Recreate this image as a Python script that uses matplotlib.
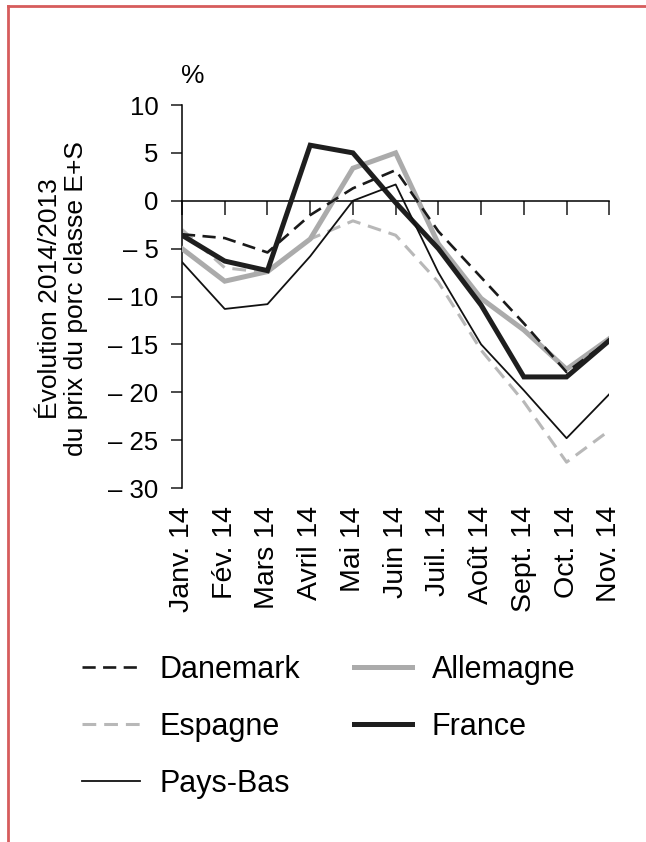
import matplotlib
matplotlib.use("Agg")
import matplotlib.pyplot as plt
from matplotlib.lines import Line2D

plt.rcParams['font.family'] = ['Liberation Sans', 'DejaVu Sans']

months = ["Janv. 14", "Fév. 14", "Mars 14", "Avril 14", "Mai 14", "Juin 14",
          "Juil. 14", "Août 14", "Sept. 14", "Oct. 14", "Nov. 14"]
danemark = [-3.5, -3.9, -5.4, -1.5, 1.3, 3.2, -3.2, -8.0, -12.8, -17.9, -14.6]
allemagne = [-5.0, -8.4, -7.4, -4.0, 3.4, 5.0, -4.5, -10.2, -13.5, -17.6, -14.4]
espagne = [-3.0, -7.0, -7.5, -4.0, -2.1, -3.6, -8.5, -15.6, -21.0, -27.3, -24.0]
france = [-3.6, -6.3, -7.3, 5.8, 5.0, -0.2, -5.0, -10.9, -18.4, -18.4, -14.6]
pays_bas = [-6.4, -11.3, -10.8, -5.8, 0.0, 1.7, -7.5, -15.0, -19.8, -24.8, -20.2]
yticks = [10, 5, 0, -5, -10, -15, -20, -25, -30]
ytick_labels = ["10", "5", "0", "\u2013 5", "\u2013 10", "\u2013 15", "\u2013 20", "\u2013 25", "\u2013 30"]

fig = plt.figure(figsize=(6.46, 8.42), dpi=100)
ax = fig.add_axes([182/646, 1-488/842, (609.3-182)/646, (488-105)/842])

x = list(range(len(months)))
l_dk, = ax.plot(x, danemark, color='#1a1a1a', lw=1.9, dashes=(5, 2.8), label='Danemark', zorder=4)
l_de, = ax.plot(x, allemagne, color='#ababab', lw=3.6, solid_joinstyle='miter', label='Allemagne', zorder=3)
l_es, = ax.plot(x, espagne, color='#b8b8b8', lw=2.2, dashes=(4.5, 2.6), label='Espagne', zorder=2)
l_fr, = ax.plot(x, france, color='#1e1e1e', lw=3.6, solid_joinstyle='miter', label='France', zorder=5)
l_nl, = ax.plot(x, pays_bas, color='#111111', lw=1.3, label='Pays-Bas', zorder=6)

ax.set_xlim(0, 10)
ax.set_ylim(-30, 10)
for s in ['top', 'right']:
    ax.spines[s].set_visible(False)
ax.spines['bottom'].set_position(('data', 0))
ax.spines['left'].set_linewidth(1.1)
ax.spines['bottom'].set_linewidth(1.1)
ax.set_xticks(x)
ax.set_xticklabels([])
ax.tick_params(axis='x', direction='out', length=10, width=1.1, color='#1a1a1a')
ax.set_yticks(yticks)
ax.set_yticklabels(ytick_labels, fontsize=18.5)
ax.tick_params(axis='y', direction='out', length=8, width=1.1, pad=9, color='#1a1a1a')

for i, m in enumerate(months):
    ax.annotate(m, xy=(i, 0), xycoords=('data', 'axes fraction'), xytext=(0, -13),
                textcoords='offset points', rotation=90, ha='center', va='top', fontsize=20.5)

fig.text(63/646, 1-299/842, "Évolution 2014/2013\ndu prix du porc classe E+S", rotation=90,
         ha='center', va='center', fontsize=19, multialignment='center', linespacing=1.12)
fig.text(193/646, 1-76/842, "%", ha='center', va='center', fontsize=19)

handles = [l_dk, l_es, l_nl, l_de, l_fr]
leg = fig.legend(handles=handles, labels=[h.get_label() for h in handles], ncol=2,
                 loc='upper left', bbox_to_anchor=(82/646, 1-655/842), frameon=False,
                 fontsize=22, handlelength=1.9, handletextpad=0.65, columnspacing=1.75,
                 labelspacing=0.88, borderpad=0, borderaxespad=0)

red = '#d65c5c'
fig.add_artist(Line2D([8/646, 8/646], [0, 1-6/842], color=red, lw=2, transform=fig.transFigure))
fig.add_artist(Line2D([8/646, 1], [1-6/842, 1-6/842], color=red, lw=2, transform=fig.transFigure))

fig.savefig("out.png", dpi=100)
